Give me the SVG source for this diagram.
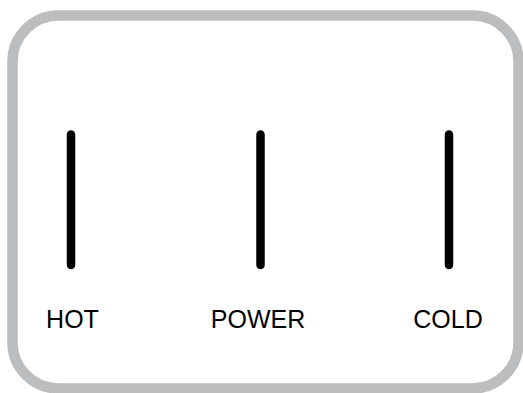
<svg xmlns="http://www.w3.org/2000/svg" width="523" height="393" viewBox="0 0 523 393">
<style>
.frame{fill:#ffffff;stroke:#bcbdbf;stroke-width:10.5}
.bar{stroke:#000000;stroke-width:8.5;stroke-linecap:round;fill:none}
.lbl{font-family:"Liberation Sans",Arial,sans-serif;font-size:25px;fill:#000000;text-anchor:middle}
</style>
<rect width="523" height="393" fill="#ffffff"/>
<rect id="panel" class="frame" x="12.5" y="15.5" width="506" height="373" rx="46" ry="46"/>
<g id="connectors">
<line class="bar" x1="71" y1="134.5" x2="71" y2="265"/>
<line class="bar" x1="260.5" y1="134.5" x2="260.5" y2="265"/>
<line class="bar" x1="449" y1="134.5" x2="449" y2="265"/>
</g>
<g id="hot"><text class="lbl" x="72.5" y="328">HOT</text></g>
<g id="power"><text class="lbl" x="258" y="328">POWER</text></g>
<g id="cold"><text class="lbl" x="448" y="328">COLD</text></g>
</svg>
